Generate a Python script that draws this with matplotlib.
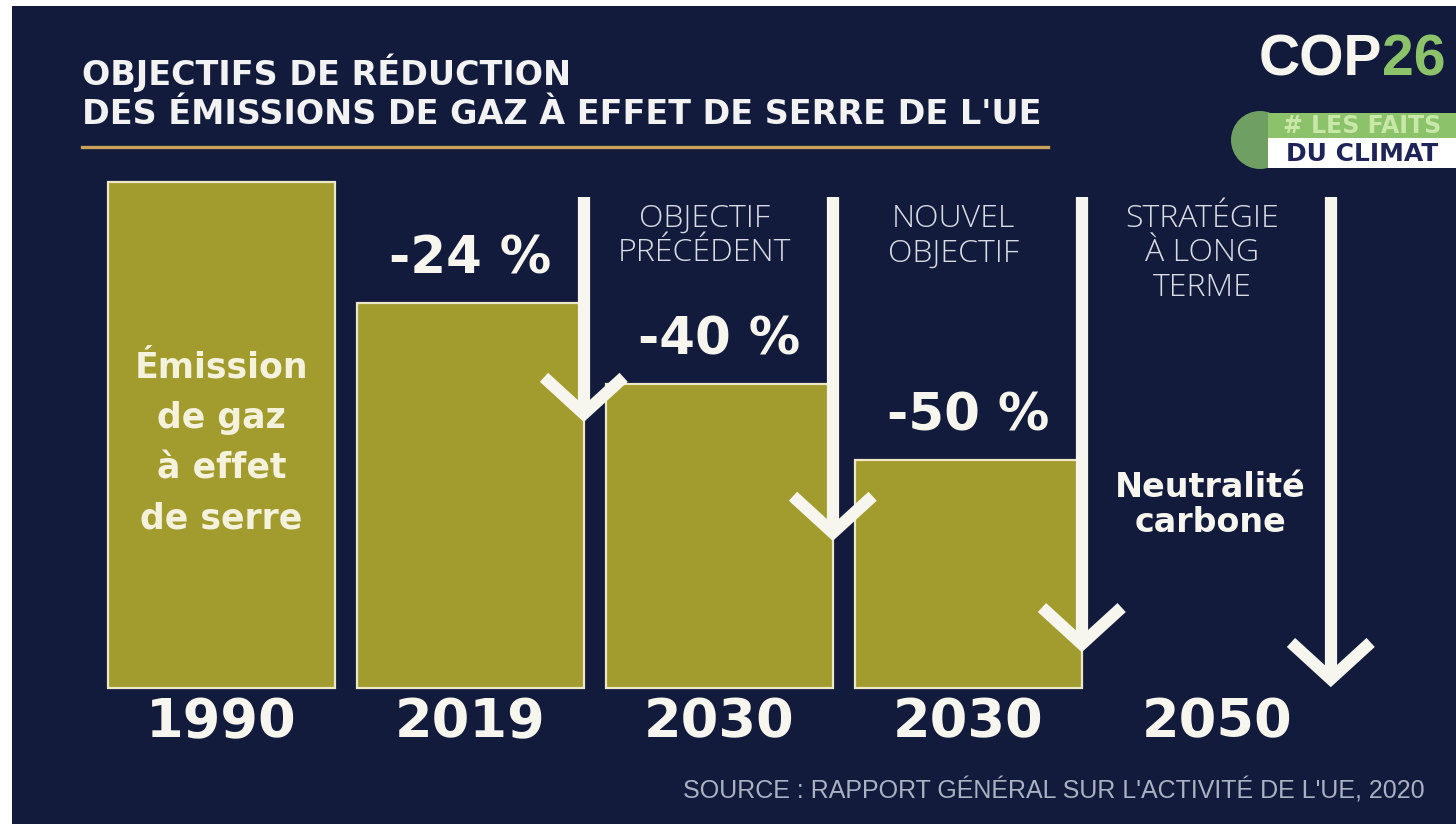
import matplotlib
matplotlib.use("Agg")
import matplotlib.pyplot as plt
from matplotlib.patches import Rectangle, Ellipse

# Values (index 1990 = 100)
years = ["1990", "2019", "2030", "2030", "2050"]
heights = [100, 76, 60, 45, 0]
pct_labels = ["", "-24 %", "-40 %", "-50 %", ""]
headers = ["", "", "OBJECTIF\nPRÉCÉDENT", "NOUVEL\nOBJECTIF", "STRATÉGIE\nÀ LONG\nTERME"]
arrow_ends = [53, 29.5, 7.5, 0.6]   # where each white arrow stops
arrow_start = 97

NAVY = "#121b3b"
OLIVE = "#a29b2e"
EDGE = "#ece8c6"
WHITE = "#f6f5ee"
GREEN = "#8cc36a"
BOLD = ["DejaVu Sans"]
LIGHT = ["Open Sans", "DejaVu Sans"]
NARROW = ["Liberation Sans", "DejaVu Sans"]

W, H = 1456, 824
fig = plt.figure(figsize=(W / 100, H / 100), dpi=100, facecolor="white")
fig.patches.append(Rectangle((12 / W, 0), 1, 1 - 6 / H, transform=fig.transFigure,
                             facecolor=NAVY, edgecolor="none", zorder=-5))

# data axes spanning the whole canvas: bar base at 688 px, 5.06 px per unit
ax = fig.add_axes([0, 0, 1, 1])
ax.set_zorder(1)
ax.set_facecolor("none")
ax.set_xlim(-221.5 / 249, (W - 221.5) / 249)
ax.set_ylim(-(H - 688) / 5.06, 688 / 5.06)
ax.axis("off")


def py(p):
    return (688 - p) / 5.06


xs = list(range(len(years)))
bx = [x for x, h in zip(xs, heights) if h > 0]
bh = [h for h in heights if h > 0]
ax.bar(bx, bh, width=0.908, color=OLIVE, edgecolor=EDGE, linewidth=1.6, zorder=2)

# white down arrows with open chevron heads
lw = 8.8
for i, end in enumerate(arrow_ends):
    x = xs[i + 1] + 0.455
    ax.plot([x, x], [arrow_start, end + 1.2], color=WHITE, lw=lw,
            solid_capstyle="butt", zorder=3)
    ax.plot([x - 0.16, x, x + 0.16], [end + 8.4, end + 1.2, end + 8.4],
            color=WHITE, lw=lw, solid_capstyle="butt", solid_joinstyle="miter",
            zorder=3)

for x, h, lab in zip(xs, heights, pct_labels):
    if lab:
        ax.text(x, h + 8.6, lab, ha="center", va="center", fontsize=37,
                fontweight="bold", family=BOLD, color=WHITE, zorder=4)

for x, lab in zip(xs, headers):
    if lab:
        ax.text(x - 0.06, py(203), lab, ha="center", va="top", fontsize=23,
                fontweight="light", family=LIGHT, color="#d9dce4",
                linespacing=1.1, zorder=4)

for x, y in zip(xs, years):
    ax.text(x, py(722), y, ha="center", va="center", fontsize=39,
            fontweight="bold", family=BOLD, color=WHITE, zorder=4)

ax.text(xs[0], py(443), "Émission\nde gaz\nà effet\nde serre", ha="center",
        va="center", fontsize=25, fontweight="bold", family=BOLD,
        color="#f4f1dc", linespacing=1.6, zorder=4)
ax.text(xs[4] - 0.03, py(505), "Neutralité\ncarbone", ha="center", va="center",
        fontsize=24, fontweight="bold", family=BOLD, color=WHITE,
        linespacing=1.05, zorder=4)

# title and gold rule
fig.text(82 / W, 1 - 73 / H, "OBJECTIFS DE RÉDUCTION", ha="left", va="center",
         fontsize=24, fontweight="bold", family=BOLD, color="#f2f2f2")
fig.text(82 / W, 1 - 114 / H, "DES ÉMISSIONS DE GAZ À EFFET DE SERRE DE L'UE",
         ha="left", va="center", fontsize=24, fontweight="bold", family=BOLD,
         color="#f2f2f2")
fig.add_artist(plt.Line2D([82 / W, 1048 / W], [1 - 147 / H, 1 - 147 / H],
                          color="#c9a35a", lw=2.4))

# source
fig.text(1425 / W, 1 - 790 / H,
         "SOURCE : RAPPORT GÉNÉRAL SUR L'ACTIVITÉ DE L'UE, 2020",
         ha="right", va="center", fontsize=18, family=NARROW, color="#a9b1c3")

# COP26 logo
fig.text(1382 / W, 1 - 61 / H, "COP", ha="right", va="center", fontsize=41,
         fontweight="bold", family=NARROW, color=WHITE)
fig.text(1382 / W, 1 - 61 / H, "26", ha="left", va="center", fontsize=41,
         fontweight="bold", family=NARROW, color=GREEN)
fig.patches.append(Ellipse((1260 / W, 1 - 140 / H), 58 / W, 58 / H,
                           transform=fig.transFigure, facecolor="#6f9f63",
                           edgecolor="none", zorder=-1))
fig.patches.append(Rectangle((1268 / W, 1 - 138 / H), 190 / W, 25 / H,
                             transform=fig.transFigure, facecolor=GREEN,
                             edgecolor="none", zorder=0))
fig.patches.append(Rectangle((1268 / W, 1 - 168 / H), 190 / W, 30 / H,
                             transform=fig.transFigure, facecolor="white",
                             edgecolor="none", zorder=0))
fig.text(1362 / W, 1 - 126 / H, "# LES FAITS", ha="center", va="center",
         fontsize=17, fontweight="bold", family=BOLD, color="#c8e8a8")
fig.text(1362 / W, 1 - 154 / H, "DU CLIMAT", ha="center", va="center",
         fontsize=18, fontweight="bold", family=BOLD, color="#1e2358")

fig.savefig("out.png", dpi=100, facecolor="white")
